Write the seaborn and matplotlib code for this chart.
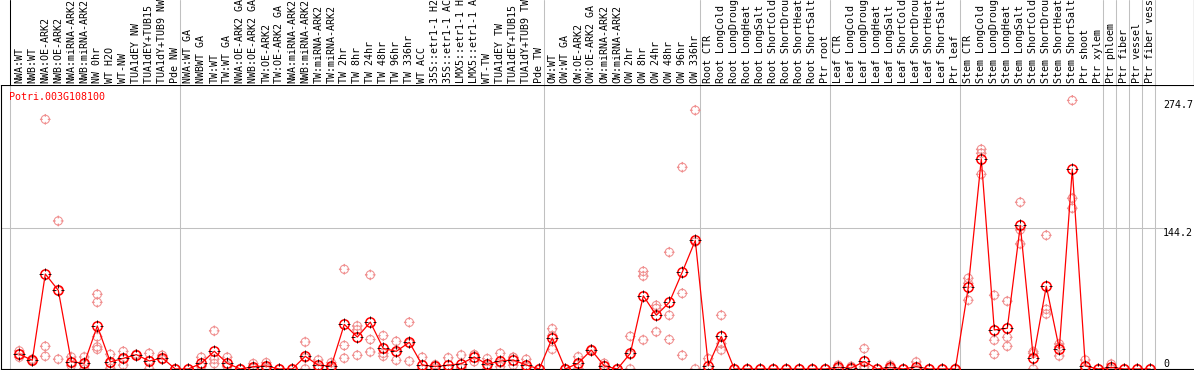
import numpy as np
import pandas as pd
import matplotlib
matplotlib.use("Agg")
import matplotlib.pyplot as plt
import matplotlib.transforms as mtransforms
from matplotlib.path import Path
import seaborn as sns

gene = "Potri.003G108100"

labels = [
    "NWA:WT", "NWB:WT", "NWA:OE-ARK2", "NWB:OE-ARK2", "NWA:miRNA-ARK2", "NWB:miRNA-ARK2",
    "NW 0hr", "WT H2O", "WT-NW", "TUA1dEY NW", "TUA1dEY+TUB15 NW", "TUA1dY+TUB9 NW", "Pde NW",
    "NWA:WT GA", "NWBWT GA", "TW:WT", "TW:WT GA", "NWA:OE-ARK2 GA", "NWB:OE-ARK2 GA",
    "TW:OE-ARK2", "TW:OE-ARK2 GA", "NWA:miRNA-ARK2", "NWB:miRNA-ARK2", "TW:miRNA-ARK2",
    "TW:miRNA-ARK2", "TW 2hr", "TW 8hr", "TW 24hr", "TW 48hr", "TW 96hr", "TW 336hr", "WT ACC",
    "35S::etr1-1 H2O", "35S::etr1-1 ACC", "LMX5::etr1-1 H2O", "LMX5::etr1-1 ACC", "WT-TW",
    "TUA1dEY TW", "TUA1dEY+TUB15 TW", "TUA1dY+TUB9 TW", "Pde TW",
    "OW:WT", "OW:WT GA", "OW:OE-ARK2", "OW:OE-ARK2 GA", "OW:miRNA-ARK2", "OW:miRNA-ARK2",
    "OW 2hr", "OW 8hr", "OW 24hr", "OW 48hr", "OW 96hr", "OW 336hr",
    "Root CTR", "Root LongCold", "Root LongDrought", "Root LongHeat", "Root LongSalt",
    "Root ShortCold", "Root ShortDrought", "Root ShortHeat", "Root ShortSalt", "Ptr root",
    "Leaf CTR", "Leaf LongCold", "Leaf LongDrought", "Leaf LongHeat", "Leaf LongSalt",
    "Leaf ShortCold", "Leaf ShortDrought", "Leaf ShortHeat", "Leaf ShortSalt", "Ptr leaf",
    "Stem CTR", "Stem LongCold", "Stem LongDrought", "Stem LongHeat", "Stem LongSalt",
    "Stem ShortCold", "Stem ShortDrought", "Stem ShortHeat", "Stem ShortSalt", "Ptr shoot",
    "Ptr xylem", "Ptr phloem", "Ptr fiber", "Ptr vessel", "Ptr fiber vessel",
]

# three replicates per sample
rep_a = [18.5, 10, 255.3, 151.4, 12.3, 12.3, 76.4, 15, 18, 15, 16, 14, 0,
         0, 12, 39, 12, 0, 5.5, 6.5, 0, 0, 27.6, 9.2, 6.5, 102, 44, 96.3, 34.1, 28.3,
         47.7, 12, 4.4, 11.5, 14.3, 14.7, 10.6, 16, 12, 9.9, 0,
         41.2, 0, 12.5, 20, 5.8, 0, 33.4, 99.8, 65, 119.4, 206.3, 264.6,
         10.6, 54.9, 0, 0, 0, 0, 0, 0, 0, 0,
         3.8, 2.7, 20.8, 0, 4, 0, 7.2, 0, 0, 0,
         92.8, 224.7, 75.4, 69.3, 170.5, 17.7, 136.7, 25.6, 274.7, 9.2, 0,
         5, 0, 0, 0]
rep_b = [15, 9, 23.2, 80, 6.8, 5.1, 68.2, 5.9, 10.7, 14.6, 8.6, 10.3, 0,
         0, 3, 10, 3, 0, 1, 2, 0, 0, 11.4, 2.2, 2, 24, 40, 30.1, 16, 17.1,
         26.3, 0, 2.7, 0, 1.2, 14.4, 3.8, 6.2, 11.8, 2.4, 0,
         34.1, 0, 5, 19.2, 3.5, 0, 14.6, 95, 62, 54.9, 77.3, 129.9,
         0, 25.9, 0, 0, 0, 0, 0, 0, 0, 0,
         1, 0.3, 2.4, 0, 1, 0, 0, 0, 0, 0,
         87.6, 220.6, 29.4, 32.4, 142.2, 16, 61, 22.6, 174.6, 0, 0,
         0, 0, 0, 0]
rep_c = [12, 7.7, 13, 10, 3.4, 0, 33, 0.7, 4, 14.5, 0, 9.6, 0,
         0, 2.4, 5.5, 2.4, 0, 0.7, 0.8, 0, 0, 0, 0, 0.8, 11, 14, 17.4, 13, 8.9,
         7.9, 0, 1, 0, 1, 7.5, 0, 2.4, 3.8, 0, 0,
         20.1, 0, 0.5, 19, 0, 0, 0, 29.7, 38, 30.1, 14, 0,
         0, 19.4, 0, 0, 0, 0, 0, 0, 0, 0,
         0.3, 0, 0, 0, 0.1, 0, 0, 0, 0, 0,
         70.3, 199.1, 15, 23.2, 127.9, 0, 56.2, 13.3, 164.4, 0, 0,
         0, 0, 0, 0]
extra_reps = {6: [22.5, 20.1]}

group_ends = [12, 40, 52, 62, 72, 83, 84, 85, 86, 87]
axis_values = [0, 144.2, 274.7]

W, H = 1194, 370
PX0, STEP = 19.3, 13.0          # pixel x of first sample, pixel spacing
Y0_PX, HEAD_PX = 369, 85        # zero line, bottom of header
UNIT = 141 / 144.2              # pixels per expression unit


def px_to_col(px):
    return (px - PX0) / STEP


rows = []
for i in range(len(labels)):
    for v in [rep_a[i], rep_b[i], rep_c[i]] + extra_reps.get(i, []):
        rows.append((i, v))
df = pd.DataFrame(rows, columns=["sample", "expr"])
means = df.groupby("sample", as_index=False)["expr"].mean()

# circle with small crosshair ticks, and the ticks on their own
circle = Path.circle((0, 0), 1.0)
ticks = Path([(0, 0.6), (0, 1.3), (0, -0.6), (0, -1.3),
              (0.6, 0), (1.3, 0), (-0.6, 0), (-1.3, 0)],
             [Path.MOVETO, Path.LINETO] * 4)
ring_marker = Path.make_compound_path(circle, ticks)
tick_marker = Path([(0, 0.6), (0, 1.3), (0, -0.6), (0, -1.3),
                    (0.6, 0), (1.3, 0), (-0.6, 0), (-1.3, 0),
                    (1.3, 1.3), (1.3, 1.3)],
                   [Path.MOVETO, Path.LINETO] * 5)

sns.set_style("white")
plt.rcParams["font.family"] = ["DejaVu Sans Mono", "DejaVu Sans"]

fig = plt.figure(figsize=(W / 100, H / 100), dpi=100)
ax = fig.add_axes([1 / W, (H - Y0_PX) / H, (W - 1) / W, (Y0_PX - HEAD_PX) / H])
hx = fig.add_axes([1 / W, (H - HEAD_PX) / H, (W - 1) / W, HEAD_PX / H])

xlim = (px_to_col(1), px_to_col(W))
for a in (ax, hx):
    a.set_xlim(*xlim)
    a.set_xticks([])
    a.set_yticks([])
    a.set_xlabel("")
    a.set_ylabel("")
ax.set_ylim(0, (Y0_PX - HEAD_PX) / UNIT)
hx.set_ylim(0, 1)

grey = "#c0c0c0"
for g in group_ends:
    ax.axvline(g + 0.36, color=grey, lw=0.75, zorder=0)
    hx.axvline(g + 0.36, color=grey, lw=0.75, zorder=0)
ax.axvline(-0.68, color=grey, lw=0.75, zorder=0)
hx.axvline(-0.68, color="black", lw=0.75, zorder=1)
ax.axhline(144.2, xmax=(1163 - 1) / (W - 1), color=grey, lw=0.75, zorder=0)

# replicates
sns.scatterplot(data=df, x="sample", y="expr", marker=ring_marker, s=60,
                facecolor="none", edgecolor="#f09090", linewidth=0.75,
                legend=False, ax=ax, zorder=2)
# mean line
sns.lineplot(data=df, x="sample", y="expr", errorbar=None, color="red", lw=0.9,
             marker=circle, markersize=6.7, markerfacecolor="none",
             markeredgecolor="red", markeredgewidth=1.1, ax=ax, zorder=3)
sns.scatterplot(data=means, x="sample", y="expr", marker=tick_marker, s=8.7 ** 2,
                facecolor="none", edgecolor="black", linewidth=0.6,
                legend=False, ax=ax, zorder=4)
ax.set_xlabel("")
ax.set_ylabel("")

for name in ("left", "bottom", "top"):
    ax.spines[name].set_color("black")
    ax.spines[name].set_linewidth(0.8)
ax.spines["right"].set_visible(False)
for name in ("left", "bottom", "top"):
    hx.spines[name].set_visible(False)
hx.spines["right"].set_color("black")
hx.spines["right"].set_linewidth(0.8)

# sample names in header
trans = mtransforms.blended_transform_factory(hx.transData, hx.transAxes)
for i, lab in enumerate(labels):
    hx.text(i, 2 / HEAD_PX, lab, rotation=90, ha="center", va="bottom",
            fontsize=7.2, color="black", transform=trans)

fig.text(9.5 / W, 1 - 97 / H, gene, color="red", fontsize=7.2, ha="left", va="center")

for v in axis_values:
    ax.text(px_to_col(1163), v, f"{v:g}", fontsize=7.2, color="black", ha="left",
            va="bottom" if v == 0 else "top")

fig.savefig("out.png", dpi=100)
